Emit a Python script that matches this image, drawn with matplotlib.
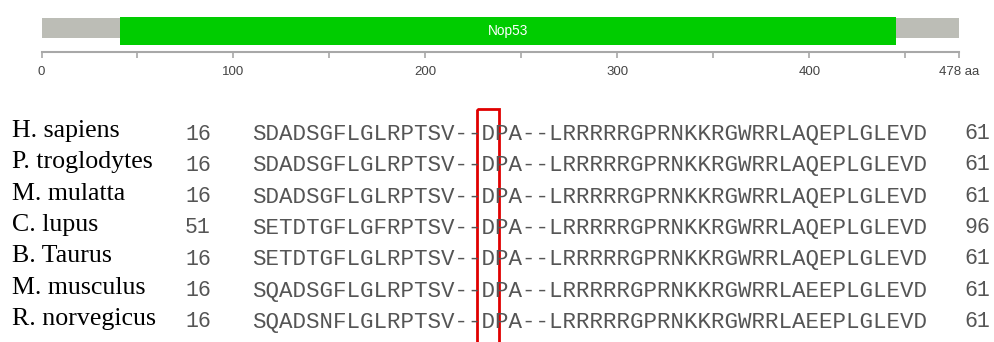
import matplotlib
matplotlib.use("Agg")
import matplotlib.pyplot as plt
from matplotlib.patches import Rectangle

# ---------------- data ----------------
protein_length = 478
domain_name = "Nop53"
domain_start = 41
domain_end = 445
major_ticks = [0, 100, 200, 300, 400, 478]
major_labels = ["0", "100", "200", "300", "400", "478 aa"]
minor_ticks = [50, 150, 250, 350, 450]

species = ["H. sapiens", "P. troglodytes", "M. mulatta", "C. lupus",
           "B. Taurus", "M. musculus", "R. norvegicus"]
start_pos = [16, 16, 16, 51, 16, 16, 16]
end_pos = [61, 61, 61, 96, 61, 61, 61]
sequences = [
    "SDADSGFLGLRPTSV--DPA--LRRRRRGPRNKKRGWRRLAQEPLGLEVD",
    "SDADSGFLGLRPTSV--DPA--LRRRRRGPRNKKRGWRRLAQEPLGLEVD",
    "SDADSGFLGLRPTSV--DPA--LRRRRRGPRNKKRGWRRLAQEPLGLEVD",
    "SETDTGFLGFRPTSV--DPA--LRRRRRGPRNKKRGWRRLAQEPLGLEVD",
    "SETDTGFLGLRPTSV--DPA--LRRRRRGPRNKKRGWRRLAQEPLGLEVD",
    "SQADSGFLGLRPTSV--DPA--LRRRRRGPRNKKRGWRRLAEEPLGLEVD",
    "SQADSNFLGLRPTSV--DPA--LRRRRRGPRNKKRGWRRLAEEPLGLEVD",
]
highlight_col = 17  # 0-based column of the boxed residue

# ---------------- figure ----------------
W, H = 994, 342
fig = plt.figure(figsize=(W / 100, H / 100), dpi=100)
fig.patch.set_facecolor("white")

# lower panel in pixel coordinates
ax2 = fig.add_axes([0, 0, 1, 1])
ax2.set_xlim(0, W)
ax2.set_ylim(H, 0)
ax2.axis("off")

# top domain map
left_px, right_px = 41.5, 959.0
top_px, axis_px = 10.0, 52.0
ax = fig.add_axes([left_px / W, 1 - axis_px / H, (right_px - left_px) / W, (axis_px - top_px) / H])
ax.set_xlim(0, protein_length)
ax.set_ylim(axis_px, top_px)
ax.patch.set_alpha(0)
ax.barh(27.9, protein_length, left=0, height=20.8, color="#bcbdb6", edgecolor="none")
ax.barh(31.0, domain_end - domain_start, left=domain_start, height=28, color="#00cc00", edgecolor="none")
ax.text((domain_start + domain_end) / 2, 31.5, domain_name, color="white", ha="center", va="center",
        fontsize=9.8, family="Liberation Sans")
for s in ["top", "left", "right"]:
    ax.spines[s].set_visible(False)
ax.spines["bottom"].set_color("#a8a8a8")
ax.spines["bottom"].set_linewidth(1.5)
ax.set_yticks([])
ax.set_xticks(major_ticks)
ax.set_xticklabels(major_labels, fontsize=9.5, color="#444444", family="Liberation Sans")
ax.set_xticks(minor_ticks, minor=True)
ax.tick_params(axis="x", which="both", direction="out", length=4.5, width=1.2, color="#a8a8a8", pad=5.5)

# alignment block
row0 = 137.0
row_h = 31.3
mono_pt = 16.2
char_w = 0.6 * mono_pt * 100 / 72
seq_x = 252.0
for i, (sp, s0, seq, e0) in enumerate(zip(species, start_pos, sequences, end_pos)):
    yb = row0 + i * row_h
    ax2.text(12, yb, sp, family="Liberation Serif", fontsize=18.6, color="black", va="baseline", ha="left")
    ax2.text(185, yb + 2.5, str(s0), family="Liberation Mono", fontsize=15.5, color="#555555", va="baseline", ha="left")
    ax2.text(seq_x, yb + 3, seq, family="Liberation Mono", fontsize=mono_pt, color="#555555", va="baseline", ha="left")
    ax2.text(990, yb + 2, str(e0), family="Liberation Mono", fontsize=15.5, color="#555555", va="baseline", ha="right")

box_x = seq_x + highlight_col * char_w - 4.5
ax2.add_patch(Rectangle((box_x, 108.5), char_w + 8, 250, fill=False, edgecolor="#e00000", linewidth=2.0, clip_on=False))

fig.savefig("out.png", dpi=100, facecolor="white")
